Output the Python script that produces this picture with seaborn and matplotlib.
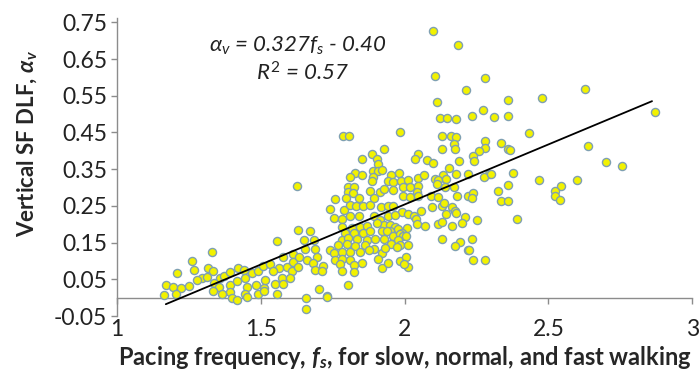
import matplotlib
matplotlib.use("Agg")
import matplotlib.pyplot as plt
import seaborn as sns
import pandas as pd

# ---- data ----
fs = [
 1.331,1.261,1.209,1.269,1.315,1.334,1.296,1.279,1.313,1.170,1.195,1.224,1.251,1.163,1.207,1.358,1.372,1.393,1.422,1.442,
 1.469,1.489,1.508,1.531,1.337,1.356,1.393,1.418,1.445,1.453,1.483,1.511,1.515,1.393,1.399,1.418,1.445,1.451,1.489,1.510,
 1.364,1.335,
 1.626,1.556,1.629,1.578,1.613,1.564,1.544,1.590,1.613,1.573,1.609,1.549,1.578,1.602,1.634,1.630,1.557,1.657,1.657,1.729,
 1.739,1.788,1.811,1.832,1.857,1.880,1.918,1.753,1.782,1.811,1.843,1.892,1.915,1.927,1.672,1.782,1.817,1.846,1.869,1.904,
 1.794,1.823,1.857,1.880,1.921,1.649,1.686,1.782,1.805,1.834,1.869,1.898,1.927,1.654,1.689,1.741,1.770,1.799,1.828,1.863,
 1.892,1.921,1.660,1.695,1.753,1.782,1.811,1.846,1.875,1.683,1.759,1.782,1.811,1.851,1.909,1.718,1.776,1.823,1.689,1.712,
 1.782,1.823,1.921,1.805,1.704,1.732,
 1.785,1.806,1.851,1.886,1.904,1.906,1.929,1.828,1.851,1.811,1.890,1.906,1.921,1.890,1.886,1.805,1.825,1.802,1.820,1.880,
 1.915,1.927,1.759,1.797,1.840,1.892,
 2.112,2.123,2.146,2.178,1.984,2.131,2.162,2.178,2.170,2.175,2.131,2.046,2.036,2.077,2.097,2.189,1.981,1.953,2.155,2.178,
 2.135,2.220,1.941,1.958,1.988,2.013,2.046,2.069,2.104,2.117,2.143,1.961,1.996,2.019,2.048,2.042,2.112,2.141,2.170,1.996,
 2.019,2.048,2.092,2.115,2.181,2.220,
 1.941,1.958,1.992,2.013,2.031,1.944,1.967,2.057,2.094,2.129,2.138,2.164,2.175,2.143,2.178,2.210,2.039,2.042,2.071,2.117,
 2.131,2.164,2.201,1.949,1.967,1.978,2.007,1.990,1.949,1.938,1.961,1.984,1.996,1.978,2.004,1.984,1.953,1.973,2.011,1.932,
 2.131,2.193,2.175,2.222,1.944,1.984,2.004,2.011,1.999,
 2.100,2.187,2.106,2.214,2.280,2.358,2.272,2.234,2.311,2.361,2.335,2.361,2.280,2.280,2.260,2.239,2.242,2.292,2.277,2.300,
 2.358,2.326,2.335,2.358,2.239,2.234,2.253,2.234,2.225,2.239,2.280,
 2.477,2.628,2.434,2.871,2.365,2.639,2.701,2.755,2.376,2.466,2.599,2.543,2.524,2.524,2.539,2.390,
]
alpha_v = [
 0.124,0.099,0.067,0.077,0.080,0.073,0.053,0.048,0.057,0.034,0.029,0.027,0.031,0.007,0.011,0.053,0.060,0.071,0.080,0.077,
 0.068,0.073,0.086,0.093,0.040,0.029,0.036,0.045,0.054,0.029,0.034,0.027,0.049,0.016,0.000,-0.005,0.011,0.002,0.009,0.018,
 0.011,0.018,
 0.304,0.155,0.185,0.110,0.119,0.081,0.072,0.083,0.097,0.054,0.072,0.038,0.038,0.054,0.110,0.085,0.011,0.000,-0.030,0.004,
 0.242,0.240,0.253,0.251,0.249,0.253,0.247,0.217,0.214,0.222,0.223,0.223,0.213,0.199,0.183,0.194,0.190,0.194,0.196,0.203,
 0.176,0.176,0.176,0.181,0.181,0.156,0.156,0.158,0.163,0.160,0.158,0.160,0.160,0.133,0.133,0.131,0.144,0.147,0.140,0.144,
 0.133,0.122,0.104,0.111,0.122,0.126,0.124,0.126,0.131,0.094,0.102,0.105,0.102,0.094,0.105,0.087,0.093,0.090,0.076,0.074,
 0.074,0.069,0.081,0.035,0.024,0.002,
 0.441,0.441,0.378,0.391,0.377,0.365,0.405,0.341,0.335,0.328,0.346,0.344,0.347,0.330,0.317,0.301,0.301,0.287,0.285,0.292,
 0.287,0.296,0.268,0.271,0.273,0.271,
 0.532,0.489,0.489,0.486,0.450,0.441,0.441,0.437,0.419,0.405,0.405,0.392,0.377,0.376,0.368,0.371,0.341,0.335,0.353,0.337,
 0.335,0.337,0.317,0.314,0.317,0.321,0.326,0.335,0.323,0.321,0.323,0.294,0.301,0.301,0.305,0.289,0.310,0.301,0.301,0.276,
 0.274,0.276,0.276,0.274,0.277,0.276,
 0.249,0.251,0.233,0.229,0.223,0.223,0.226,0.235,0.247,0.249,0.258,0.247,0.235,0.229,0.231,0.220,0.214,0.202,0.196,0.202,
 0.205,0.196,0.203,0.199,0.193,0.187,0.190,0.176,0.183,0.181,0.169,0.174,0.169,0.158,0.167,0.144,0.147,0.138,0.144,0.135,
 0.160,0.153,0.142,0.129,0.096,0.099,0.111,0.085,0.093,
 0.726,0.687,0.605,0.565,0.598,0.538,0.512,0.494,0.491,0.496,0.421,0.405,0.426,0.408,0.399,0.385,0.372,0.338,0.329,0.338,
 0.308,0.290,0.263,0.263,0.285,0.272,0.211,0.160,0.129,0.102,0.102,
 0.544,0.569,0.449,0.505,0.401,0.414,0.369,0.358,0.340,0.322,0.322,0.305,0.290,0.276,0.265,0.214,
]
fit_slope = 0.327
fit_intercept = -0.40
fit_x = [1.17, 2.86]

x_ticks = [1, 1.5, 2, 2.5, 3]
x_tick_labels = ["1", "1.5", "2", "2.5", "3"]
y_ticks = [-0.05, 0.05, 0.15, 0.25, 0.35, 0.45, 0.55, 0.65, 0.75]
y_tick_labels = ["-0.05", "0.05", "0.15", "0.25", "0.35", "0.45", "0.55", "0.65", "0.75"]

df = pd.DataFrame({"fs": fs, "alpha_v": alpha_v})

sns.set_style("white")
plt.rcParams["font.family"] = ["Lato", "DejaVu Sans"]
plt.rcParams["mathtext.fontset"] = "custom"
plt.rcParams["mathtext.rm"] = "Lato"
plt.rcParams["mathtext.it"] = "Lato:italic"
plt.rcParams["mathtext.bf"] = "Lato:bold"
plt.rcParams["mathtext.bfit"] = "Lato:bold:italic"

fig = plt.figure(figsize=(7, 3.8), dpi=100)
ax = fig.add_axes([0.167, 0.168, 0.822, 0.785])

sns.scatterplot(data=df, x="fs", y="alpha_v", ax=ax, s=34, color="#f2f200",
                edgecolor="#7fa0b2", linewidth=1.0, zorder=3, legend=False)

fit_y = [fit_slope * v + fit_intercept for v in fit_x]
ax.plot(fit_x, fit_y, color="black", lw=1.3, zorder=4)

ax.set_xlim(1, 3)
ax.set_ylim(-0.05, 0.762)
ax.set_xticks(x_ticks)
ax.set_xticklabels(x_tick_labels)
ax.set_yticks(y_ticks)
ax.set_yticklabels(y_tick_labels)

gray = "#8c8c8c"
for side in ["top", "right"]:
    ax.spines[side].set_visible(False)
ax.spines["left"].set_color(gray)
ax.spines["left"].set_linewidth(1.0)
ax.spines["bottom"].set_position(("data", 0))
ax.spines["bottom"].set_color(gray)
ax.spines["bottom"].set_linewidth(1.0)

ax.tick_params(axis="y", direction="out", length=4, width=1, color=gray,
               labelsize=16.5, labelcolor="#222222", pad=3, left=True)
ax.tick_params(axis="x", direction="out", length=4, width=1, color=gray,
               labelsize=16.5, labelcolor="#222222", pad=11.5, bottom=True)

ax.set_xlabel(r"Pacing frequency, $\mathbfit{f}_\mathbfit{s}$, for slow, normal, and fast walking",
              fontsize=17, fontweight="bold")
ax.xaxis.set_label_coords(0.5, -0.095)
ax.set_ylabel(r"Vertical SF DLF, $\mathbfit{\alpha}_\mathbfit{v}$", fontsize=16, fontweight="bold")
ax.yaxis.set_label_coords(-0.135, 0.58)

ax.text(0.315, 0.905, r"$\alpha_v$ = 0.327$f_s$ - 0.40", transform=ax.transAxes,
        fontsize=16, style="italic", ha="center", va="center", color="#222222")
ax.text(0.323, 0.815, r"$R^2$ = 0.57", transform=ax.transAxes,
        fontsize=16, style="italic", ha="center", va="center", color="#222222")

fig.savefig("out.png", dpi=100)
